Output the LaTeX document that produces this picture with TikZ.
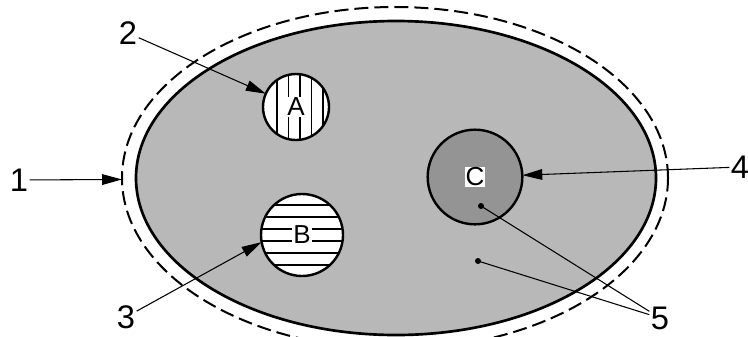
\documentclass[tikz,border=0pt]{standalone}
\usepackage{fontspec}
\setmainfont{Liberation Sans}
\usetikzlibrary{shapes.geometric,arrows.meta}

\begin{document}
\begin{tikzpicture}[x=0.75pt,y=-0.75pt,
    numlabel/.style={font=\fontsize{24.5}{28}\selectfont, inner sep=1pt},
    letterlabel/.style={font=\fontsize{19.5}{22}\selectfont, fill=white, inner sep=0.8pt},
    blob/.style={circle, draw, line width=1.8pt, inner sep=0pt, outer sep=0pt},
    pointer/.style={line width=0.8pt, -{Triangle[length=15pt,width=8pt]}},
    leader/.style={line width=0.8pt}]
  \useasboundingbox (0,0) rectangle (748,336);
  \clip (0,0) rectangle (748,336);
  % outer dashed boundary and body
  \node[ellipse, draw, dash pattern=on 10.5pt off 4.5pt, line width=1.5pt,
        minimum width=409.5pt, minimum height=256.5pt, inner sep=0pt, outer sep=0pt] (outer) at (395,178) {};
  \node[ellipse, draw, line width=2pt, fill=black!28,
        minimum width=390pt, minimum height=235.5pt, inner sep=0pt, outer sep=0pt] (body) at (396,178) {};
  % inclusions
  \node[blob, fill=white, minimum size=49.5pt] (circA) at (296,107) {};
  \node[blob, fill=white, minimum size=61.5pt] (circB) at (302,235) {};
  \node[blob, fill=black!42, minimum size=71pt] (circC) at (475,177) {};
  \begin{scope}
    \clip (circA.center) circle (33);
    \foreach \x in {277,288.5,...,323}
      \draw[line width=0.8pt] (\x,70) -- (\x,145);
  \end{scope}
  \begin{scope}
    \clip (circB.center) circle (41);
    \foreach \y in {205,217,...,265}
      \draw[line width=0.8pt] (255,\y) -- (350,\y);
  \end{scope}
  \node[letterlabel] (labA) at (circA) {A};
  \node[letterlabel] (labB) at (circB) {B};
  \node[letterlabel] (labC) at (circC) {C};
  % reference numbers
  \node[numlabel] (lab1) at (19,180) {1};
  \node[numlabel] (lab2) at (128,33) {2};
  \node[numlabel] (lab3) at (126,317) {3};
  \node[numlabel] (lab4) at (740,167) {4};
  \node[numlabel] (lab5) at (660,318) {5};
  \node[circle, fill, inner sep=0pt, minimum size=4.5pt] (dot1) at (481,206) {};
  \node[circle, fill, inner sep=0pt, minimum size=4.5pt] (dot2) at (478,261) {};
  \draw[pointer] (lab1) -- (outer);
  \draw[pointer] (lab2) -- (circA);
  \draw[pointer] (lab3) -- (circB.190);
  \draw[pointer] (lab4) -- (circC);
  \draw[leader] (lab5) -- (dot1.center);
  \draw[leader] (lab5) -- (dot2.center);
\end{tikzpicture}
\end{document}
